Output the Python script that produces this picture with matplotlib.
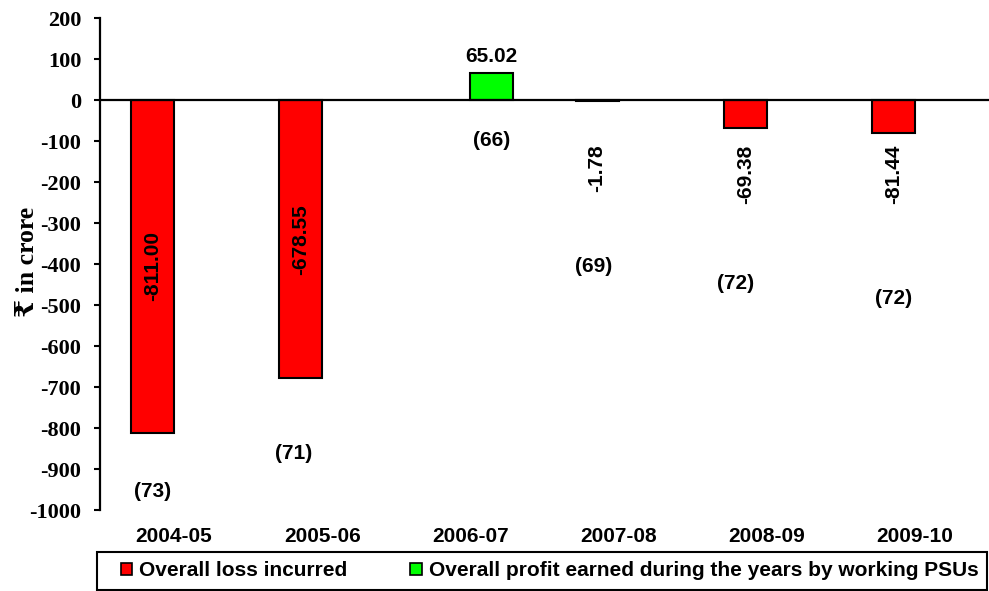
import matplotlib.pyplot as plt
from matplotlib.patches import Patch, Rectangle

plt.rcParams["axes.unicode_minus"] = False

# data
years = ["2004-05", "2005-06", "2006-07", "2007-08", "2008-09", "2009-10"]
loss = [-811.00, -678.55, None, -1.78, -69.38, -81.44]
profit = [None, None, 65.02, None, None, None]
psu_count = ["(73)", "(71)", "(66)", "(69)", "(72)", "(72)"]
# where the PSU counts sit (data units)
psu_y = [-956, -861, -98, -407, -447, -483]
psu_dx = [-0.145, -0.19, 0.145, -0.17, -0.21, -0.145]

sans = ["Liberation Sans", "DejaVu Sans"]
serif = ["Liberation Serif", "DejaVu Serif", "DejaVu Sans"]

fig = plt.figure(figsize=(9.89, 5.91), dpi=100)
ax = fig.add_axes([0.101, 0.137, 0.899, 0.8325])

w = 0.29
x = range(len(years))
for i in x:
    if loss[i] is not None:
        ax.bar(i - w / 2, loss[i], width=w, color="#ff0000",
               edgecolor="black", linewidth=1.5, zorder=2)
        v = loss[i]
        if abs(v) > 200:
            ax.text(i - w / 2, v / 2, f"{v:.2f}", rotation=90, ha="center",
                    va="center", fontsize=15, fontweight="bold", family=sans)
        else:
            ax.text(i - w / 2, -108, f"{v:.2f}", rotation=90, ha="center",
                    va="top", fontsize=15, fontweight="bold", family=sans)
    if profit[i] is not None:
        ax.bar(i + w / 2, profit[i], width=w, color="#00ff00",
               edgecolor="black", linewidth=1.5, zorder=2)
        ax.text(i + w / 2, profit[i] + 18, f"{profit[i]:.2f}", ha="center",
                va="bottom", fontsize=15, fontweight="bold", family=sans)
    ax.text(i + psu_dx[i], psu_y[i], psu_count[i], ha="center", va="center",
            fontsize=15, fontweight="bold", family=sans)

ax.axhline(0, color="black", linewidth=1.6, zorder=3)

ax.set_xlim(-0.5, len(years) - 0.5)
ax.set_ylim(-1000, 200)
ax.set_yticks(range(-1000, 201, 100))
ax.set_xticks(list(x))
ax.set_xticklabels(years, fontsize=15, fontweight="bold", family=sans)
ax.tick_params(axis="x", length=0, pad=12)
ax.tick_params(axis="y", direction="out", length=4.5, width=1.5, pad=9)
for lab in ax.get_yticklabels():
    lab.set_family(serif)
    lab.set_fontweight("bold")
    lab.set_fontsize(16)

for s in ["top", "right", "bottom"]:
    ax.spines[s].set_visible(False)
ax.spines["left"].set_linewidth(1.6)

ax.set_ylabel("₹ in crore", fontsize=18.5, fontweight="bold", family=serif)
ax.yaxis.set_label_coords(-0.068, 0.505)

# legend box drawn by hand so it spans the width like the original
fig.patches.append(Rectangle((0.098, 0.002), 0.9, 0.064, transform=fig.transFigure,
                             facecolor="white", edgecolor="black", linewidth=1.5))
handles = [Patch(facecolor="#ff0000", edgecolor="black", linewidth=1.2),
           Patch(facecolor="#00ff00", edgecolor="black", linewidth=1.2)]
fig.legend(handles, ["Overall loss incurred",
                     "Overall profit earned during the years by working PSUs"],
           loc="center left", bbox_to_anchor=(0.122, 0.034), ncol=2,
           frameon=False, prop={"family": sans, "weight": "bold", "size": 15},
           handlelength=0.55, handleheight=0.55, handletextpad=0.35,
           columnspacing=3.0, borderpad=0, borderaxespad=0)

fig.savefig("out.png", dpi=100)
